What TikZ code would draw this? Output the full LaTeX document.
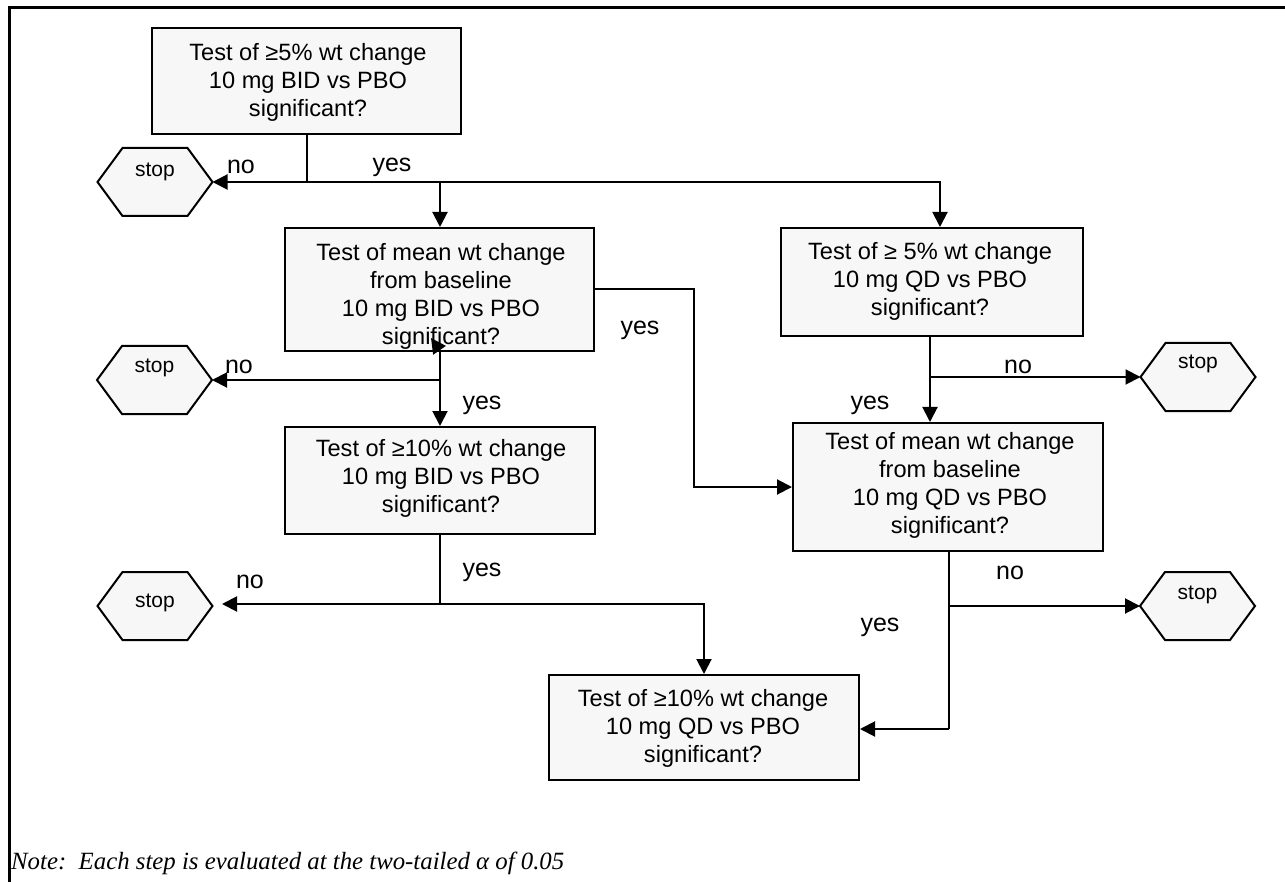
\documentclass[tikz,border=0pt]{standalone}
\usepackage{fontspec}
\setmainfont{Liberation Sans}
\newfontfamily\notefont{Liberation Serif}
\usetikzlibrary{arrows.meta}
\definecolor{boxfill}{HTML}{F7F7F7}
\newcommand\hexstop[4]{% name, cx, cy, text dy
  \coordinate (#1-w) at (#2-57.5,#3);
  \coordinate (#1-e) at (#2+57.5,#3);
  \draw[hexs] (#1-w) -- ++(25,-34) -- ++(65,0) -- (#1-e) -- ++(-25,34) -- ++(-65,0) -- cycle;
  \node[stoptxt] (#1) at (#2,#3+#4) {stop};
}
\begin{document}
\begin{tikzpicture}[x=1pt,y=-1pt,
  box/.style={draw=black, line width=2pt, fill=boxfill, inner sep=0pt},
  boxtext/.style={align=center, font=\fontsize{23.6}{28}\selectfont, inner sep=0pt},
  hexs/.style={draw=black, line width=2pt, fill=boxfill, line join=miter},
  stoptxt/.style={font=\fontsize{21}{24}\selectfont, inner sep=0pt},
  lbl/.style={font=\fontsize{25}{28}\selectfont, inner sep=0pt},
  conn/.style={draw=black, line width=2pt},
  arr/.style={conn, -{Triangle[length=15pt,width=15pt]}}]
\useasboundingbox (0,0) rectangle (1285,882);
% frame
\draw[line width=3pt] (9.5,882) -- (9.5,7.5) -- (1285,7.5);

% boxes
\node[box, minimum width=309pt, minimum height=106pt] (b1) at (306.5,81) {};
\node[boxtext] (b1t) at (308,82) {Test of ≥5\% wt change\\10 mg BID vs PBO\\significant?};
\node[box, minimum width=309pt, minimum height=123pt] (b2) at (439.5,289.5) {};
\node[box, minimum width=302pt, minimum height=108pt] (b3) at (932,282) {};
\node[boxtext] (b3t) at (930,281) {Test of ≥ 5\% wt change\\10 mg QD vs PBO\\significant?};
\node[box, minimum width=310pt, minimum height=107pt] (b4) at (440,480.5) {};
\node[boxtext] (b4t) at (441,478.5) {Test of ≥10\% wt change\\10 mg BID vs PBO\\significant?};
\node[box, minimum width=310pt, minimum height=128pt] (b5) at (948,487) {};
\node[boxtext] (b5t) at (950,485) {Test of mean wt change\\from baseline\\10 mg QD vs PBO\\significant?};
\node[box, minimum width=310pt, minimum height=105pt] (b6) at (704,727.5) {};
\node[boxtext] (b6t) at (703,728) {Test of ≥10\% wt change\\10 mg QD vs PBO\\significant?};

% stops
\hexstop{s1}{155}{182}{-10}
\hexstop{s2}{154.5}{380}{-12}
\hexstop{s3}{155}{606}{-3}
\hexstop{s4}{1198}{377}{-13}
\hexstop{s5}{1197.5}{606}{-11}

% connectors from b1
\coordinate (j1) at (306.5,182);
\coordinate (j2) at (940,182);
\coordinate (j3) at (440,182);
\draw[arr] (b1.south) -- (j1) -- (s1-e);
\draw[arr] (j1) -- (j2) -- (j2 |- b3.north);
\draw[arr] (j3) -- (j3 |- b2.north);

% b2 yes to b5
\coordinate (k1) at (594,289);
\coordinate (k2) at (694,289);
\coordinate (k3) at (694,487);
\draw[arr] (k1) -- (k2) -- (k3) -- (b5.west);

% b2 down
\coordinate (m0) at (440,351);
\coordinate (m1) at (440,380);
\draw[arr] (m0) -- (b4.north);
\draw[arr] (m1) -- (s2-e);
\coordinate (m2) at (431,338);
\draw[arr] (m0) -- (m2);

% b4 down
\coordinate (n1) at (440,604);
\coordinate (n2) at (222,604);
\coordinate (n3) at (704,604);
\draw[conn] (b4.south) -- (n1);
\draw[arr] (n1) -- (n2);
\draw[arr] (n1) -- (n3) -- (b6.north);

% b3 down
\coordinate (p0) at (930,336);
\coordinate (p1) at (930,377);
\draw[arr] (p0) -- (p0 |- b5.north);
\draw[arr] (p1) -- (s4-w);

% b5 down
\coordinate (q0) at (949,551);
\coordinate (q1) at (949,606);
\coordinate (q2) at (949,729);
\draw[conn] (q0) -- (q2);
\draw[arr] (q1) -- (s5-w);
\draw[arr] (q2) -- (q2 -| b6.east);

% b2 text drawn over the connector tip
\node[boxtext] (b2t) at (441,296.5) {Test of mean wt change\\from baseline\\10 mg BID vs PBO\\significant?};

% labels
\node[lbl] (l1) at (241,167) {no};
\node[lbl] (l2) at (392,167) {yes};
\node[lbl] (l3) at (640,330) {yes};
\node[lbl] (l4) at (239,367) {no};
\node[lbl] (l5) at (482,405) {yes};
\node[lbl] (l6) at (250,582) {no};
\node[lbl] (l7) at (482,572) {yes};
\node[lbl] (l8) at (1018,367) {no};
\node[lbl] (l9) at (870,405) {yes};
\node[lbl] (l10) at (1010,573) {no};
\node[lbl] (l11) at (880,627) {yes};

% note
\node[anchor=base west, inner sep=0pt, font=\notefont\itshape\fontsize{24.8}{28}\selectfont] (note) at (11,869) {Note:\ \ Each step is evaluated at the two-tailed α of 0.05};
\end{tikzpicture}
\end{document}
